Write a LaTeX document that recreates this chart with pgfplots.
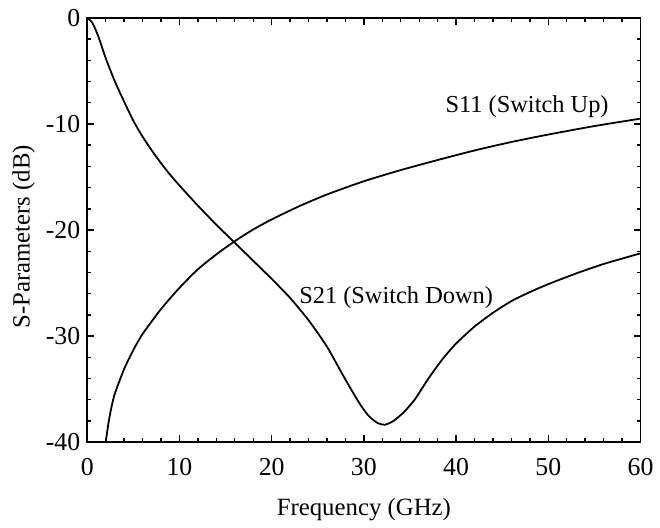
\documentclass[border=0pt]{standalone}
\usepackage{pgfplots}
\pgfplotsset{compat=1.18}
\usepackage{fontspec}
\setmainfont{Liberation Serif}
\begin{document}
\begin{tikzpicture}
\begin{axis}[
  at={(0,0)}, anchor=south west,
  scale only axis, width=279pt, height=214pt,
  xmin=0, xmax=60, ymin=-40, ymax=0,
  xtick={0,10,...,60}, ytick={-40,-30,...,0},
  minor x tick num=4, minor y tick num=4,
  tick align=inside,
  major tick length=3.5pt, minor tick length=2pt,
  axis line style={line width=0.9pt},
  every tick/.style={line width=0.7pt, black},
  tick label style={font=\fontsize{13}{15}\selectfont},
  xticklabel style={yshift=-4.5pt},
  /pgf/number format/assume math mode=true,
  xlabel={Frequency (GHz)},
  ylabel={S-Parameters (dB)},
  every axis x label/.style={at={(axis description cs:0.5,-0.159)}, anchor=center, font=\fontsize{12.5}{14}\selectfont},
  every axis y label/.style={at={(axis description cs:-0.115,0.484)}, anchor=center, rotate=90, font=\fontsize{12.5}{14}\selectfont},
  clip=false,
]
\addplot[black, line width=0.9pt, smooth, tension=0.4] coordinates {
(2.0,-40) (2.3,-38.2) (2.6,-36.8) (3.0,-35.4) (4.0,-33.1) (5.0,-31.3) (6.0,-29.8)
(8.0,-27.45) (10,-25.45) (12,-23.7) (14,-22.3) (16,-21.05) (18,-19.95) (20,-19.0)
(23,-17.75) (26,-16.65) (30,-15.4) (34,-14.35) (38,-13.4) (42,-12.5) (46,-11.7)
(50,-11.0) (55,-10.2) (60,-9.5)
};
\addplot[black, line width=0.9pt, smooth, tension=0.4] coordinates {
(0,0) (0.5,-0.4) (1,-1.3) (1.5,-2.5) (2,-3.8) (3,-6.0) (4,-7.9) (5,-9.7)
(6,-11.2) (7,-12.5) (8,-13.7) (9,-14.8) (10,-15.8) (12,-17.7) (14,-19.5)
(16,-21.2) (18,-22.9) (20,-24.6) (22,-26.4) (24,-28.5) (26,-31.0) (28,-34.1)
(29.5,-36.3) (30.5,-37.5) (31.5,-38.2) (32.3,-38.35) (33.2,-38.0) (34.3,-37.2)
(35.5,-36.0) (37,-34.0) (38.5,-32.2) (40,-30.7) (42,-29.1) (44,-27.8) (46,-26.7)
(48,-25.85) (50,-25.1) (53,-24.1) (56,-23.2) (60,-22.2)
};
\node[font=\fontsize{12.3}{14}\selectfont] at (axis cs:47.7,-8.4) {S11 (Switch Up)};
\node[font=\fontsize{12.3}{14}\selectfont] at (axis cs:33.5,-26.4) {S21 (Switch Down)};
\end{axis}
\path (-44pt,-40pt) rectangle (286pt,223pt);
\end{tikzpicture}
\end{document}
